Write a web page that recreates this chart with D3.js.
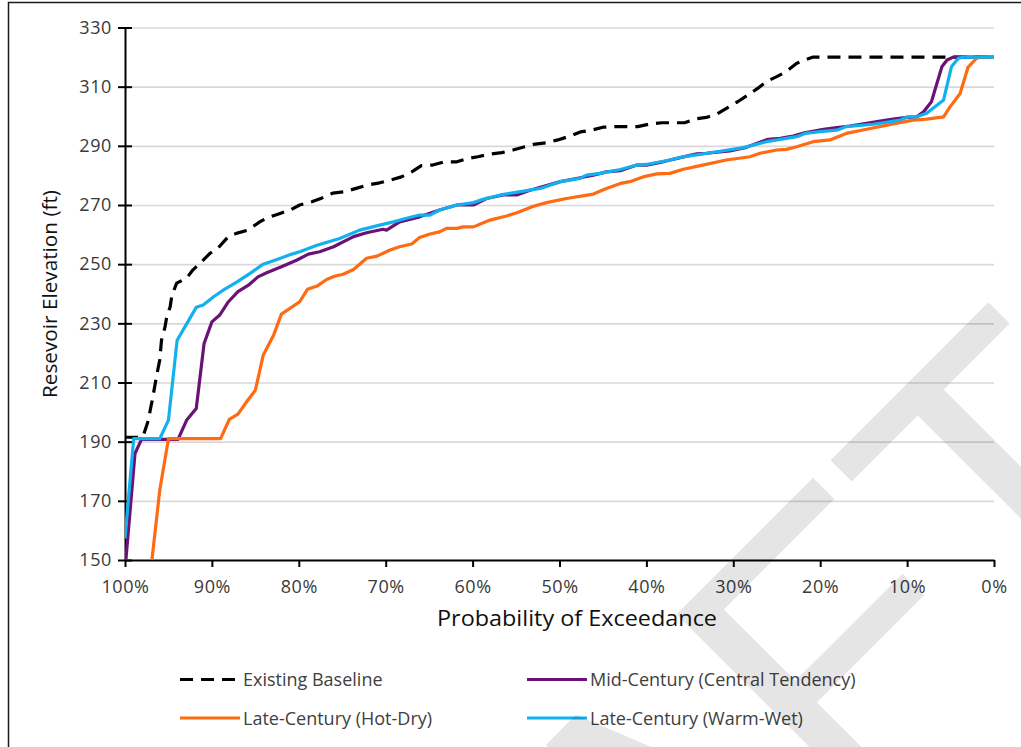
<!DOCTYPE html>
<html>
<head>
<meta charset="utf-8">
<script src="https://cdn.jsdelivr.net/npm/d3@7"></script>
<style>
  html, body { margin: 0; padding: 0; background: #fff; }
  svg { display: block; }
  text { font-family: "Open Sans", "Noto Sans", sans-serif; }
</style>
</head>
<body>
<svg id="chart" width="1021" height="747"></svg>
<script>
// Exceedance curves: [probability of exceedance (%), reservoir elevation (ft)]
const existingBaseline = [
  [100,191.5],[98.3,191.5],[97.9,192],[97.3,197.3],[97.1,200.6],[96.8,205],[96.35,212.5],[96.0,217.6],
  [95.8,224.3],[95.4,228.7],[95.2,232.2],[94.8,235.6],[94.6,239.5],[94.05,243.6],[92.9,245.3],[92.2,248],
  [91.2,250.8],[90.2,253.7],[89.3,255.4],[88.15,259.2],[87.1,260.5],[85.85,261.5],[84.5,264.3],[83.7,265.6],
  [82.4,266.9],[81.0,268.3],[79.9,270],[78.5,271.1],[77.4,272.3],[76.1,274],[74.7,274.5],[73.3,275.7],
  [72.2,276.7],[70.7,277.5],[69.5,278.4],[68.2,279.5],[67.0,281.2],[65.9,283.3],[64.6,283.5],[63.2,284.6],
  [61.8,284.6],[60.5,285.8],[59.4,286.3],[58.0,287.2],[56.65,287.7],[55.35,288.6],[54.0,289.7],[52.8,290.6],
  [51.5,291],[50.2,292],[48.8,293.3],[47.6,294.7],[46.3,295.3],[45.0,296.3],[43.6,296.5],[41.0,296.5],
  [39.6,297.4],[38.2,297.8],[35.6,297.8],[34.4,299.1],[33.1,299.6],[31.9,300.7],[30.6,303],[29.5,304.9],
  [28.3,307.2],[27.2,309.4],[26.2,311.7],[25.0,313.4],[23.9,315.1],[22.7,317.9],[21.6,319.2],[20.8,320],[0,320]
];

const midCentury = [
  [99.9,150],[98.85,186],[98.1,190.8],[93.9,190.8],[92.9,197.3],[91.8,201.2],[90.9,223.2],[90.0,230.5],
  [89.1,232.8],[88.1,237.3],[87.0,240.7],[85.8,242.9],[84.7,245.7],[83.7,247.1],[82.0,249.1],[80.2,251.4],
  [78.9,253.4],[77.6,254.2],[76.0,255.9],[73.7,259.3],[72.2,260.6],[70.3,261.8],[69.9,261.5],[68.4,264.3],
  [66.1,266],[63.8,268.3],[61.8,270],[59.9,270],[58.4,272.2],[56.5,273.4],[54.9,273.4],[53.4,275],
  [51.9,276.2],[49.9,277.9],[47.6,279.2],[46.1,280.1],[44.6,281.2],[43.0,281.6],[41.1,283.5],[40.0,283.5],
  [38.1,284.6],[36.1,286],[34.2,287.3],[33.1,287.5],[30.4,288.3],[28.5,289.5],[26.0,292.2],[24.6,292.5],
  [23.1,293.3],[21.8,294.4],[19.6,295.6],[18.1,296.2],[16.6,296.7],[14.65,297.6],[13.1,298.4],[11.6,299],
  [10.0,299.6],[8.9,299.8],[8.1,301.5],[7.2,304.9],[6.0,316.7],[5.4,319],[4.7,320],[0,320]
];

const lateHotDry = [
  [96.9,150],[96.0,173.6],[95.0,191],[89.0,191],[88.0,197.5],[87.0,199.3],[86.0,203.5],[85.0,207.4],
  [84.1,219.2],[82.9,226],[82.0,233.1],[79.9,237.3],[79.0,241.5],[77.9,242.6],[76.8,244.8],[75.8,246],
  [74.9,246.6],[73.7,248.2],[72.2,252],[71.0,252.7],[69.5,254.8],[68.4,255.9],[67.0,256.8],[66.1,259],
  [64.9,260.2],[63.8,260.9],[63.0,262.1],[61.8,262.1],[61.1,262.6],[59.9,262.6],[58.0,264.9],[56.1,266.3],
  [54.9,267.4],[53.0,269.6],[51.5,270.8],[49.2,272.2],[46.1,273.7],[44.6,275.6],[43.0,277.3],[41.9,277.9],
  [40.4,279.5],[38.8,280.5],[37.3,280.7],[35.75,282.1],[33.8,283.3],[30.8,285.2],[28.1,286.3],[26.9,287.5],
  [25.0,288.6],[23.9,288.8],[22.9,289.5],[20.8,291.4],[18.9,292],[17.0,294.2],[14.65,295.6],[11.6,297.4],
  [9.3,298.7],[7.75,299],[5.8,299.8],[5.1,303],[3.9,307.7],[3.0,316.5],[2.0,319.6],[1.4,320],[0,320]
];

const lateWarmWet = [
  [100,157.3],[99.0,191],[96.0,191],[95.0,197.3],[94.0,224.3],[91.8,235.4],[91.0,236.2],[89.8,239],
  [88.7,241.2],[87.1,244],[85.6,246.9],[84.1,250],[82.5,251.6],[80.8,253.4],[79.9,254.2],[77.9,256.4],
  [75.3,258.7],[73.0,261.5],[70.7,263.2],[69.1,264.3],[67.6,265.5],[66.1,266.6],[64.9,266.6],[63.8,268.3],
  [61.8,270],[59.9,270.8],[58.8,271.9],[56.8,273.4],[54.5,274.5],[52.2,275.6],[49.9,277.9],[47.6,279],
  [46.9,280.1],[45.3,280.7],[43.0,282],[41.1,283.5],[40.0,283.7],[37.3,285.2],[35.75,286.3],[33.8,287.1],
  [31.9,288],[28.85,289.4],[26.2,291.4],[24.6,292.2],[22.7,293.1],[21.75,294.2],[20.0,294.8],[18.1,295.3],
  [17.0,296.5],[13.9,297.3],[10.8,298.7],[9.9,299.8],[8.9,299.8],[7.75,301],[5.8,305.5],[4.9,316.7],
  [4.1,319.6],[3.5,320],[0,320]
];

const seriesNames = [
  "Existing Baseline",
  "Mid-Century (Central Tendency)",
  "Late-Century (Hot-Dry)",
  "Late-Century (Warm-Wet)"
];
const seriesColors = ["#000000", "#6B1277", "#FF6A13", "#12B0EE"];
const xTicks = [100, 90, 80, 70, 60, 50, 40, 30, 20, 10, 0];
const yTicks = [150, 170, 190, 210, 230, 250, 270, 290, 310, 330];

const series = [existingBaseline, midCentury, lateHotDry, lateWarmWet].map((pts, i) => ({
  name: seriesNames[i], color: seriesColors[i], dashed: i === 0, points: pts
}));

const svg = d3.select("#chart");
const plot = { left: 125, right: 994, top: 27.5, bottom: 560 };

svg.append("rect").attr("width", 1021).attr("height", 747).attr("fill", "#fff");

// chart area frame
svg.append("rect")
  .attr("x", 8.5).attr("y", 2.5).attr("width", 1040).attr("height", 780)
  .attr("fill", "none").attr("stroke", "#1a1a1a").attr("stroke-width", 1.5);

const x = d3.scaleLinear().domain([100, 0]).range([plot.left, plot.right]);
const y = d3.scaleLinear().domain([150, 330]).range([plot.bottom, plot.top]);

// horizontal gridlines
svg.append("g")
  .attr("transform", `translate(${plot.left},0)`)
  .call(d3.axisLeft(y).tickValues(yTicks.filter(d => d !== 150)).tickSize(-(plot.right - plot.left)).tickFormat(""))
  .call(g => g.select(".domain").remove())
  .call(g => g.selectAll("line").attr("stroke", "#d9d9d9").attr("stroke-width", 1.6));

const tickFont = g => g.selectAll(".tick text")
  .attr("fill", "#3a3a3a")
  .style("font-size", "18px")
  .style("font-weight", 400)
  .style("letter-spacing", "0.6px")
  .style("font-family", "'Open Sans', sans-serif");

// y axis with ticks crossing the axis line
const yAxis = svg.append("g")
  .attr("transform", `translate(${plot.left},0)`)
  .call(d3.axisLeft(y).tickValues(yTicks).tickSize(7).tickSizeOuter(0).tickPadding(6));
yAxis.select(".domain").attr("stroke", "#000").attr("stroke-width", 2);
yAxis.selectAll(".tick line").attr("x1", 7).attr("stroke", "#000").attr("stroke-width", 2);
yAxis.call(tickFont);

// x axis
const xAxis = svg.append("g")
  .attr("transform", `translate(0,${plot.bottom})`)
  .call(d3.axisBottom(x).tickValues(xTicks).tickFormat(d => d + "%").tickSize(7).tickSizeOuter(0).tickPadding(13));
xAxis.select(".domain").attr("stroke", "#000").attr("stroke-width", 2);
xAxis.selectAll(".tick line").attr("stroke", "#000").attr("stroke-width", 2);
xAxis.call(tickFont);

// series lines, clipped to the plotting area
svg.append("clipPath").attr("id", "plot-clip")
  .append("rect")
  .attr("x", plot.left).attr("y", plot.top - 4)
  .attr("width", plot.right - plot.left + 4).attr("height", plot.bottom - plot.top + 4);

const line = d3.line().x(d => x(d[0])).y(d => y(d[1]));

svg.append("g").attr("clip-path", "url(#plot-clip)")
  .selectAll("path")
  .data(series)
  .join("path")
  .attr("d", d => line(d.points))
  .attr("fill", "none")
  .attr("stroke", d => d.color)
  .attr("stroke-width", 3.2)
  .attr("stroke-linejoin", "round")
  .attr("stroke-dasharray", d => d.dashed ? "13,8" : null);

// axis titles
svg.append("text")
  .attr("x", 577).attr("y", 626)
  .attr("text-anchor", "middle")
  .attr("textLength", 280).attr("lengthAdjust", "spacingAndGlyphs")
  .attr("fill", "#111")
  .style("font-size", "21px").style("font-weight", 500)
  .text("Probability of Exceedance");

svg.append("text")
  .attr("transform", "translate(57,294) rotate(-90)")
  .attr("text-anchor", "middle")
  .attr("textLength", 208).attr("lengthAdjust", "spacingAndGlyphs")
  .attr("fill", "#111")
  .style("font-size", "19.5px").style("font-weight", 500)
  .text("Resevoir Elevation (ft)");

// legend, two columns by two rows
const legendCols = [180, 527];
const legendRows = [679.5, 718];
const legend = svg.append("g")
  .selectAll("g")
  .data(series)
  .join("g")
  .attr("transform", (d, i) => `translate(${legendCols[i % 2]},${legendRows[Math.floor(i / 2)]})`);
legend.append("line")
  .attr("x1", 0).attr("x2", 60).attr("y1", 0).attr("y2", 0)
  .attr("stroke", d => d.color).attr("stroke-width", 3)
  .attr("stroke-dasharray", d => d.dashed ? "13,8" : null);
legend.append("text")
  .attr("x", 63).attr("y", 6.5)
  .attr("fill", "#404040")
  .style("font-size", "18px")
  .text(d => d.name);

// DRAFT watermark across the lower right
svg.append("text")
  .attr("transform", "translate(1187,488) rotate(-45)")
  .attr("text-anchor", "end")
  .attr("fill", "#000").attr("fill-opacity", 0.1)
  .style("font-family", "'Liberation Sans', Arial, sans-serif")
  .style("font-size", "395px")
  .text("DRAFT");
</script>
</body>
</html>
